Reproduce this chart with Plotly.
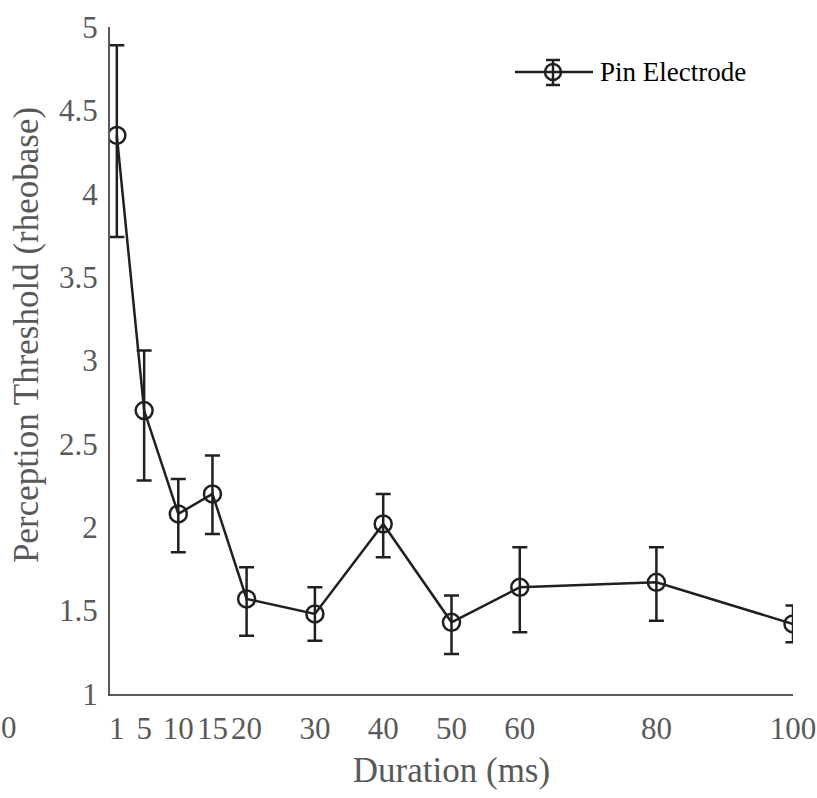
import plotly.graph_objects as go

durations = [1, 5, 10, 15, 20, 30, 40, 50, 60, 80, 100]
threshold = [4.35, 2.70, 2.08, 2.20, 1.57, 1.48, 2.02, 1.43, 1.64, 1.67, 1.42]
err_upper = [4.89, 3.06, 2.29, 2.43, 1.76, 1.64, 2.20, 1.59, 1.88, 1.88, 1.53]
err_lower = [3.74, 2.28, 1.85, 1.96, 1.35, 1.32, 1.82, 1.24, 1.37, 1.44, 1.31]
x_ticks = [1, 5, 10, 15, 20, 30, 40, 50, 60, 80, 100]
y_ticks = [1, 1.5, 2, 2.5, 3, 3.5, 4, 4.5, 5]
series_name = "Pin Electrode"
x_title = "Duration (ms)"
y_title = "Perception Threshold (rheobase)"

plus = [u - v for u, v in zip(err_upper, threshold)]
minus = [v - l for v, l in zip(threshold, err_lower)]

FONT = "Liberation Serif"
GRAY = "#595959"
DARK = "#231f20"
TICK_SIZE = 31
TITLE_SIZE = 35

fig = go.Figure()
fig.add_trace(go.Scatter(
    x=durations, y=threshold, name=series_name, mode="lines+markers",
    line=dict(color=DARK, width=2.5),
    marker=dict(symbol="circle-open", size=17, color=DARK, line=dict(width=2.5, color=DARK)),
    error_y=dict(type="data", symmetric=False, array=plus, arrayminus=minus,
                 color=DARK, thickness=2.5, width=7.5),
    showlegend=False,
))

fig.update_layout(
    width=817, height=798,
    margin=dict(l=110, r=24, t=27, b=104),
    plot_bgcolor="white", paper_bgcolor="white",
    font=dict(family=FONT, color=GRAY, size=TICK_SIZE),
    showlegend=False,
    xaxis=dict(range=[0, 100], tickmode="array", tickvals=x_ticks,
               ticktext=[str(t) for t in x_ticks], tickangle=0,
               showgrid=False, zeroline=False, showline=True,
               linecolor=GRAY, linewidth=2, ticks="", automargin=False,
               ticklabelstandoff=6,
               tickfont=dict(family=FONT, size=TICK_SIZE, color=GRAY),
               title=dict(text=x_title, standoff=12,
                          font=dict(family=FONT, size=TITLE_SIZE, color=GRAY))),
    yaxis=dict(range=[1, 5], tickmode="array", tickvals=y_ticks,
               ticktext=[f"{t:g}" for t in y_ticks],
               showgrid=False, zeroline=False, showline=True,
               linecolor=GRAY, linewidth=2, ticks="", automargin=False,
               ticklabelstandoff=4,
               tickfont=dict(family=FONT, size=TICK_SIZE, color=GRAY)),
)

def px_x(p):
    return (p - 110) / 683.0

def px_y(p):
    return (694 - p) / 667.0

# y-axis title (placed like the reference, slightly above the plot centre)
fig.add_annotation(text=y_title, xref="paper", yref="paper",
                   x=px_x(26), y=px_y(335), textangle=-90,
                   xanchor="center", yanchor="middle", showarrow=False,
                   font=dict(family=FONT, size=TITLE_SIZE, color=GRAY))

# stray "0" tick label at the far left, as in the reference
fig.add_annotation(text="0", xref="paper", yref="paper", x=px_x(9), y=-0.05,
                   showarrow=False, xanchor="center", yanchor="middle",
                   font=dict(family=FONT, size=TICK_SIZE, color=GRAY))

# legend (drawn manually to match the long line symbol with error bar)
leg_y = 72
fig.add_shape(type="line", xref="paper", yref="paper",
              x0=px_x(515), x1=px_x(593), y0=px_y(leg_y), y1=px_y(leg_y),
              line=dict(color=DARK, width=2.5))
fig.add_shape(type="line", xref="paper", yref="paper",
              x0=px_x(553), x1=px_x(553), y0=px_y(60), y1=px_y(85),
              line=dict(color=DARK, width=2.5))
for cy in (60, 85):
    fig.add_shape(type="line", xref="paper", yref="paper",
                  x0=px_x(546), x1=px_x(560), y0=px_y(cy), y1=px_y(cy),
                  line=dict(color=DARK, width=2.5))
fig.add_shape(type="circle", xref="paper", yref="paper",
              x0=px_x(545), x1=px_x(561), y0=px_y(leg_y + 8), y1=px_y(leg_y - 8),
              line=dict(color=DARK, width=2.5), fillcolor="rgba(0,0,0,0)")
fig.add_annotation(text=series_name, xref="paper", yref="paper",
                   x=px_x(598), y=px_y(leg_y), xanchor="left", yanchor="middle",
                   showarrow=False, font=dict(family=FONT, size=27, color="black"))

fig.write_html("out.html")
